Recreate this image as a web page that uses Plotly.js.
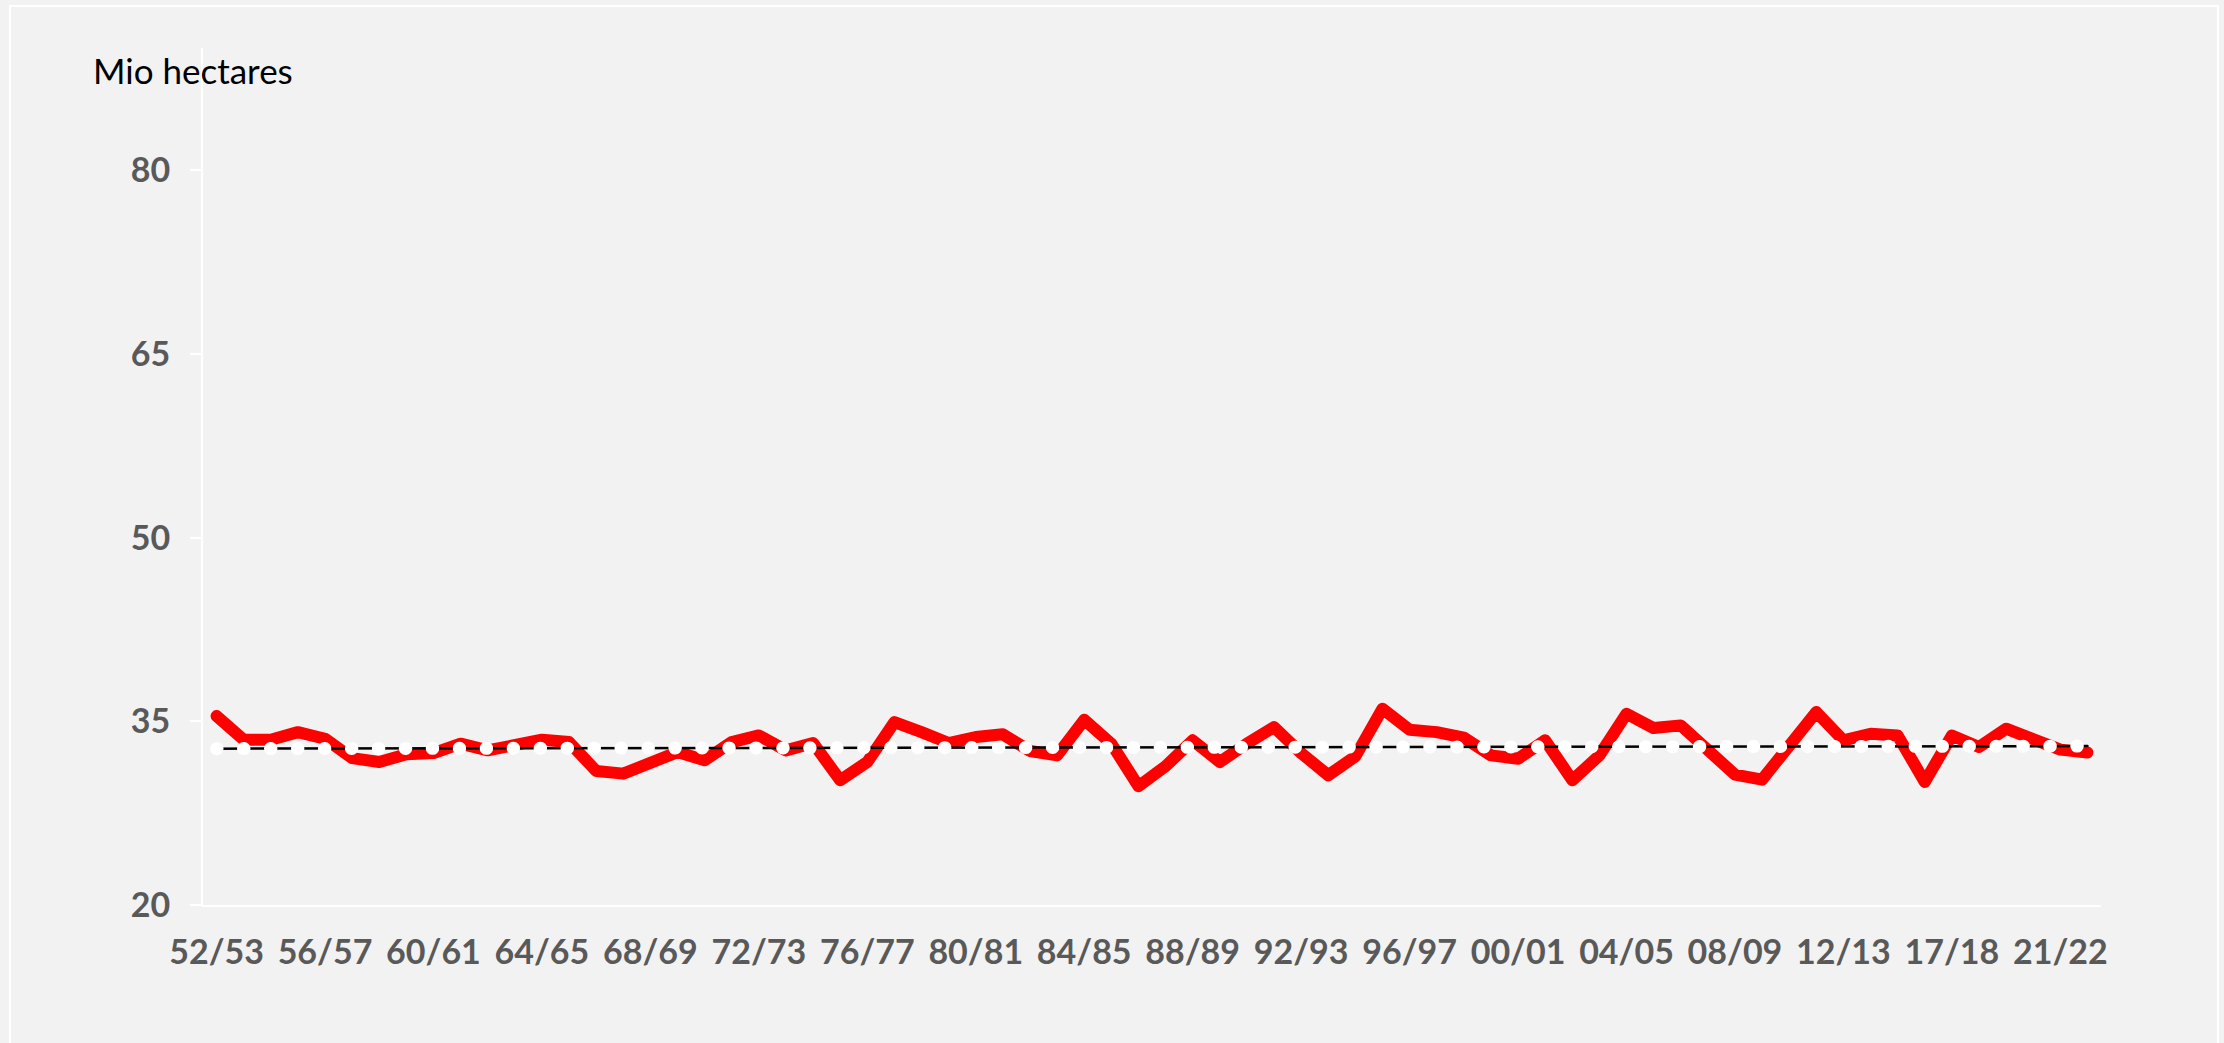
<!DOCTYPE html>
<html>
<head>
<meta charset="utf-8">
<script src="https://cdn.plot.ly/plotly-3.0.1.min.js"></script>
<style>
  html, body { margin: 0; padding: 0; background: #f2f2f2; }
  #chart { width: 2224px; height: 1043px; }
  .scatterlayer path.js-line { stroke-linecap: round !important; stroke-linejoin: round !important; }
</style>
</head>
<body>
<div id="chart"></div>
<script>
// Seasons (one season between 13/14 and 17/18 is absent in the source chart)
const seasons = [
  "52/53","53/54","54/55","55/56","56/57","57/58","58/59","59/60","60/61","61/62",
  "62/63","63/64","64/65","65/66","66/67","67/68","68/69","69/70","70/71","71/72",
  "72/73","73/74","74/75","75/76","76/77","77/78","78/79","79/80","80/81","81/82",
  "82/83","83/84","84/85","85/86","86/87","87/88","88/89","89/90","90/91","91/92",
  "92/93","93/94","94/95","95/96","96/97","97/98","98/99","99/00","00/01","01/02",
  "02/03","03/04","04/05","05/06","06/07","07/08","08/09","09/10","10/11","11/12",
  "12/13","13/14","14/15","16/17","17/18","18/19","19/20","20/21","21/22","22/23"
];

// Area, Mio hectares
const area = [
  35.43, 33.50, 33.50, 34.12, 33.58, 32.00, 31.68, 32.31, 32.41, 33.18,
  32.63, 33.10, 33.50, 33.31, 30.95, 30.73, 31.68, 32.49, 31.82, 33.31,
  33.85, 32.63, 33.23, 30.19, 31.68, 34.94, 34.12, 33.23, 33.72, 33.94,
  32.58, 32.22, 35.13, 33.18, 29.70, 31.33, 33.45, 31.68, 33.18, 34.53,
  32.41, 30.60, 32.14, 36.03, 34.32, 34.12, 33.67, 32.22, 31.95, 33.45,
  30.19, 32.22, 35.62, 34.45, 34.67, 32.63, 30.65, 30.24, 33.04, 35.76,
  33.45, 33.99, 33.85, 30.05, 33.85, 32.90, 34.40, 33.67, 32.69, 32.45
];

// Linear trend end points (first and last season)
const trendSeasons = ["52/53", "22/23"];
const trendValues = [32.77, 32.98];

// Labels shown on the x axis
const tickLabels = ["52/53","56/57","60/61","64/65","68/69","72/73","76/77","80/81","84/85",
  "88/89","92/93","96/97","00/01","04/05","08/09","12/13","17/18","21/22"];
const yTicks = [20, 35, 50, 65, 80];

const tickFont = { family: "Lato, 'Open Sans', sans-serif", size: 34, color: "#595959", weight: 700 };

const traces = [
  {
    x: seasons, y: area, type: "scatter", mode: "lines",
    line: { color: "#ff0000", width: 12 },
    hoverinfo: "skip", showlegend: false
  },
  {
    x: trendSeasons, y: trendValues, type: "scatter", mode: "lines",
    line: { color: "#000000", width: 2.5 },
    hoverinfo: "skip", showlegend: false
  },
  {
    x: trendSeasons, y: trendValues, type: "scatter", mode: "lines",
    line: { color: "#ffffff", width: 13, dash: "0.5px,26.46px" },
    hoverinfo: "skip", showlegend: false
  }
];

const W = 2224, H = 1043;
const mL = 203, mR = 123, mT = 48, mB = 138;
const pw = W - mL - mR, ph = H - mT - mB;
const px = v => (v - mL) / pw;
const py = v => (H - mB - v) / ph;

const layout = {
  width: W, height: H,
  margin: { l: mL, r: mR, t: mT, b: mB, pad: 0 },
  paper_bgcolor: "#f2f2f2",
  plot_bgcolor: "#f2f2f2",
  showlegend: false,
  xaxis: {
    type: "category",
    categoryorder: "array",
    categoryarray: seasons,
    range: [-0.5, seasons.length - 0.5],
    tickmode: "array",
    tickvals: tickLabels,
    ticktext: tickLabels,
    ticks: "",
    ticklabelstandoff: 16,
    tickfont: tickFont,
    showgrid: false, zeroline: false,
    showline: true, linecolor: "#ffffff", linewidth: 2
  },
  xaxis2: {
    type: "linear",
    overlaying: "x",
    anchor: "y",
    range: [-0.5, seasons.length - 0.5],
    tickmode: "linear", tick0: -0.5, dtick: 3,
    ticks: "outside", ticklen: 11, tickwidth: 2, tickcolor: "#ffffff",
    showticklabels: false, showgrid: false, zeroline: false, showline: false
  },
  yaxis: {
    range: [20, 90],
    tickmode: "array",
    tickvals: yTicks,
    ticks: "outside", ticklen: 11, tickwidth: 2, tickcolor: "#ffffff",
    ticklabelstandoff: 13,
    tickfont: tickFont,
    showgrid: false, zeroline: false,
    showline: true, linecolor: "#ffffff", linewidth: 2
  },
  annotations: [{
    text: "Mio hectares",
    xref: "paper", yref: "paper",
    x: px(91), y: py(70),
    xanchor: "left", yanchor: "middle",
    showarrow: false,
    font: { family: "Lato, 'Open Sans', sans-serif", size: 35, color: "#000000" }
  }],
  shapes: [{
    type: "rect", xref: "paper", yref: "paper", layer: "below",
    x0: px(10), x1: px(2218), y0: py(1080), y1: py(6),
    line: { color: "#ffffff", width: 2 },
    fillcolor: "rgba(0,0,0,0)"
  }]
};

Plotly.newPlot("chart", traces, layout, { displayModeBar: false, staticPlot: true }).then(gd => {
  gd.querySelectorAll(".scatterlayer path.js-line").forEach(p => {
    p.style.strokeLinecap = "round";
    p.style.strokeLinejoin = "round";
  });
});
</script>
</body>
</html>
